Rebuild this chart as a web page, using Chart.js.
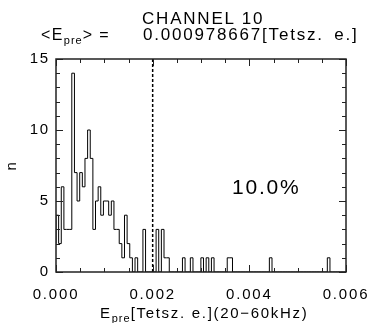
<!DOCTYPE html>
<html>
<head>
<meta charset="utf-8">
<script src="https://cdn.jsdelivr.net/npm/chart.js@4.4.1/dist/chart.umd.min.js"></script>
<style>
  body { margin: 0; background: #fff; }
  #wrap { position: relative; width: 372px; height: 323px; }
  #chart { position: absolute; left: 0; top: 0; }
  .txt { position: absolute; font-family: "Liberation Sans", Arial, sans-serif; color: #000;
         letter-spacing: 1.8px; white-space: pre; line-height: 16px; font-size: 16px; }
  .txt sub { font-size: 11px; vertical-align: -4px; letter-spacing: 1px; }
</style>
</head>
<body>
<div id="wrap">
  <canvas id="chart" width="372" height="323"></canvas>
  <div class="txt" style="left:142px; top:11px; font-size:17px;">CHANNEL 10</div>
  <div class="txt" style="left:41px; top:27px; letter-spacing:1.4px;">&lt;E<sub>pre</sub>&gt; =</div>
  <div class="txt" style="left:143px; top:27px; font-size:17px; word-spacing:4px;">0.000978667[Tetsz. e.]</div>
  <div class="txt" style="left:232px; top:176px; font-size:21px; line-height:21px;">10.0%</div>
  <div class="txt" style="left:100px; top:305px; font-size:15px; letter-spacing:1.7px;">E<sub>pre</sub>[Tetsz. e.](20−60kHz)</div>
</div>
<script>
document.addEventListener('DOMContentLoaded', function () {
    // histogram data: counts per bin
    const binSize = 0.0000545;
    const counts = [
        2, 4, 2, 6, 3, 3, 3, 14, 7, 5,
        7, 6, 8, 10, 8, 3, 5, 6, 4, 5,
        5, 4, 5, 3, 3, 2, 1, 4, 2, 1,
        0, 1, 0, 0, 3, 0, 0, 0, 0, 3,
        0, 3, 1, 1, 0, 0, 0, 0, 0, 1,
        0, 0, 1, 0, 0, 0, 1, 0, 1, 0,
        1, 0, 0, 0, 0, 0, 1, 1, 0, 0,
        0, 0, 0, 0, 0, 0, 0, 0, 0, 0,
        0, 0, 1, 0, 0, 0, 0, 0, 0, 0,
        0, 0, 0, 0, 0, 0, 0, 0, 0, 0,
        0, 0, 0, 0, 1, 0, 0, 0, 0, 0
    ];
    const threshold = 0.002;
    const xTicks = [0, 0.002, 0.004, 0.006];
    const yTicks = [0, 5, 10, 15];
    const xMinorStep = 0.0005;
    const yMinorStep = 1;

    const histPoints = counts.map((c, i) => ({ x: i * binSize, y: c }));
    histPoints.push({ x: counts.length * binSize, y: counts[counts.length - 1] });

    const tickFont = { family: '"Liberation Sans", Arial, sans-serif', size: 15 };

    // draws the box with inward ticks on all four sides
    const boxPlugin = {
        id: 'box',
        beforeDraw(chart) {
            chart.ctx.letterSpacing = '1.8px';
        },
        afterDraw(chart) {
            const ctx = chart.ctx;
            const a = chart.chartArea;
            const xs = chart.scales.x;
            const ys = chart.scales.y;
            ctx.save();
            ctx.strokeStyle = '#222';
            ctx.lineWidth = 1.5;
            ctx.strokeRect(a.left, a.top, a.right - a.left, a.bottom - a.top);
            ctx.lineWidth = 1;
            ctx.beginPath();
            for (let v = 0; v <= 0.006 + 1e-9; v += xMinorStep) {
                const px = Math.round(xs.getPixelForValue(v)) + 0.5;
                const major = xTicks.some(t => Math.abs(t - v) < 1e-9);
                const len = major ? 7 : 4;
                ctx.moveTo(px, a.bottom); ctx.lineTo(px, a.bottom - len);
                ctx.moveTo(px, a.top); ctx.lineTo(px, a.top + len);
            }
            for (let v = 0; v <= 15; v += yMinorStep) {
                const py = Math.round(ys.getPixelForValue(v)) + 0.5;
                const major = yTicks.includes(v);
                const len = major ? 7 : 4;
                ctx.moveTo(a.left, py); ctx.lineTo(a.left + len, py);
                ctx.moveTo(a.right, py); ctx.lineTo(a.right - len, py);
            }
            ctx.stroke();
            ctx.restore();
        }
    };

    new Chart(document.getElementById('chart'), {
        type: 'line',
        data: {
            datasets: [{
                data: histPoints,
                stepped: 'after',
                borderColor: '#000',
                borderWidth: 1,
                pointRadius: 0,
                fill: false
            }, {
                data: [{ x: threshold, y: 0 }, { x: threshold, y: 15 }],
                borderColor: '#000',
                borderWidth: 1.5,
                borderDash: [3, 2],
                pointRadius: 0,
                fill: false
            }]
        },
        options: {
            responsive: false,
            animation: false,
            devicePixelRatio: 1,
            layout: { padding: { top: 59, right: 26, left: 0, bottom: 0 } },
            plugins: { legend: { display: false }, tooltip: { enabled: false } },
            scales: {
                x: {
                    type: 'linear',
                    min: 0,
                    max: 0.006,
                    afterBuildTicks: s => { s.ticks = xTicks.map(v => ({ value: v })); },
                    afterFit: s => {
                        s.height = 51;
                        s.paddingLeft = 0;
                        s.paddingRight = 0;
                    },
                    ticks: {
                        callback: v => v.toFixed(3),
                        font: tickFont,
                        color: '#000',
                        padding: 14,
                        maxRotation: 0,
                        autoSkip: false
                    },
                    grid: { display: false, drawTicks: false },
                    border: { display: false }
                },
                y: {
                    type: 'linear',
                    min: 0,
                    max: 15,
                    afterBuildTicks: s => { s.ticks = yTicks.map(v => ({ value: v })); },
                    afterFit: s => {
                        s.width = 56;
                        s.paddingTop = 0;
                        s.paddingBottom = 0;
                    },
                    ticks: {
                        font: tickFont,
                        color: '#000',
                        padding: 6
                    },
                    title: {
                        display: true,
                        text: 'n',
                        font: tickFont,
                        color: '#000',
                        padding: 3
                    },
                    grid: { display: false, drawTicks: false },
                    border: { display: false }
                }
            }
        },
        plugins: [boxPlugin]
    });
});
</script>
</body>
</html>
